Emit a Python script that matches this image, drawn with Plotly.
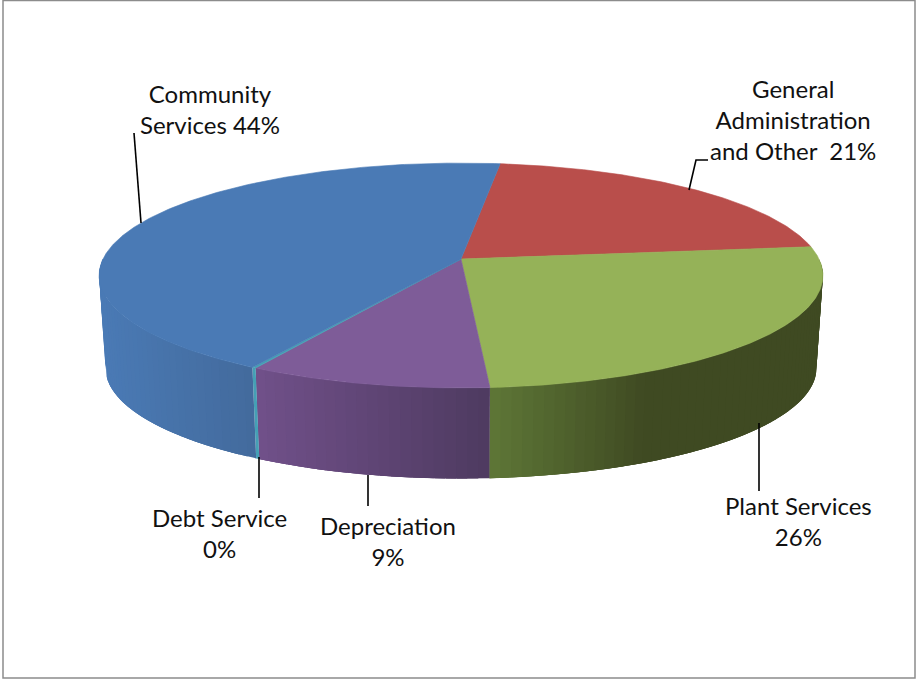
import numpy as np
import plotly.graph_objects as go

# ---- data (clockwise from the back of the pie) ----
categories = ["General Administration and Other", "Plant Services", "Depreciation", "Debt Service", "Community Services"]
values = [21.2, 25.7, 9.45, 0.15, 43.5]
label_texts = ["General<br>Administration<br>and Other  21%", "Plant Services<br>26%", "Depreciation<br>9%", "Debt Service<br>0%", "Community<br>Services 44%"]

# ---- style ----
top_colors = ["#b94e4b", "#95b258", "#7e5c98", "#45a0b5", "#4a7ab5"]
wall_from = ["#8c3a38", "#5e7737", "#705089", "#45a0b5", "#4a7ab5"]
wall_to = ["#8c3a38", "#3f4a22", "#4e3a60", "#45a0b5", "#436a9c"]
wall_x = [(0, 1), (490, 645), (258, 490), (0, 1), (100, 256)]
START_DEG = 7.2
CX, Y0, A, B, K = 461.0, 259.0, 358.0, 110.0, 0.1467
BOTTOM_Y0, BOTTOM_SCALE = 352.0, 0.982
label_pos = [(793, 119), (798, 521), (388, 541), (219, 533), (210, 109)]
leaders = [
    [(708, 160), (696, 160), (689, 190)],
    [(759, 423), (759, 491)],
    [(368, 475), (368, 506)],
    [(259, 457), (259, 498)],
    [(134, 133), (141, 223)],
]
FONT = dict(family="Lato, Carlito, sans-serif", size=24, color="#111111")


def project(theta_deg, y0=Y0, scale=1.0):
    t = np.radians(theta_deg)
    u, v = np.sin(t), np.cos(t)
    d = 1 + K * v
    return CX + scale * A * u / d, y0 - scale * B * v / d


def hex_mix(c1, c2, f):
    a = [int(c1[i:i + 2], 16) for i in (1, 3, 5)]
    b = [int(c2[i:i + 2], 16) for i in (1, 3, 5)]
    return "rgb(%d,%d,%d)" % tuple(round(p + (q - p) * f) for p, q in zip(a, b))


def poly(xs, ys, color, line=0.6):
    return go.Scatter(x=xs, y=ys, mode="lines", fill="toself", fillcolor=color,
                      line=dict(color=color, width=line), hoverinfo="skip", showlegend=False)


spans = np.array(values) / sum(values) * 360.0
edges = START_DEG + np.concatenate([[0], np.cumsum(spans)])

fig = go.Figure()

# walls: visible front part only; each strip runs on under the next one to hide seams
for i in range(len(values)):
    lo, hi = max(edges[i], 90.0), min(edges[i + 1], 270.0)
    if hi <= lo:
        continue
    n = max(1, int((hi - lo) / 1.5))
    steps = np.linspace(lo, hi, n + 1)
    for a0, a1 in zip(steps[:-1], steps[1:]):
        th = np.linspace(a0, min(a1 + 3.0, hi), 6)
        xt, yt = project(th)
        xb, yb = project(th[::-1], BOTTOM_Y0, BOTTOM_SCALE)
        xm, _ = project((a0 + a1) / 2)
        x0, x1 = wall_x[i]
        f = float(np.clip((xm - x0) / (x1 - x0), 0, 1))
        fig.add_trace(poly(list(xt) + list(xb) + [xt[0]], list(yt) + list(yb) + [yt[0]],
                           hex_mix(wall_from[i], wall_to[i], f), line=0))

# top faces
for i in range(len(values)):
    th = np.linspace(edges[i], edges[i + 1], max(2, int(spans[i] * 2)))
    ex, ey = project(th)
    fig.add_trace(poly([CX] + list(ex) + [CX], [Y0] + list(ey) + [Y0], top_colors[i]))

# leader lines
for pts in leaders:
    fig.add_trace(go.Scatter(x=[p[0] for p in pts], y=[p[1] for p in pts], mode="lines",
                             line=dict(color="#000000", width=1.6), hoverinfo="skip", showlegend=False))

annotations = [dict(x=p[0], y=p[1], xref="x", yref="y", text=t, showarrow=False, font=FONT,
                    align="center", xanchor="center", yanchor="middle")
               for t, p in zip(label_texts, label_pos)]

fig.update_layout(
    width=916, height=680, margin=dict(l=0, r=0, t=0, b=0),
    paper_bgcolor="white", plot_bgcolor="white", showlegend=False,
    xaxis=dict(range=[0, 916], visible=False, fixedrange=True),
    yaxis=dict(range=[680, 0], visible=False, fixedrange=True),
    annotations=annotations,
    shapes=[dict(type="rect", x0=3, y0=0.5, x1=915, y1=678, xref="x", yref="y",
                 line=dict(color="#8c8c8c", width=1.5), layer="below")],
)
fig.write_html("out.html", config=dict(displayModeBar=False),
               post_script="document.body.style.margin='0';document.body.style.overflow='hidden';")
